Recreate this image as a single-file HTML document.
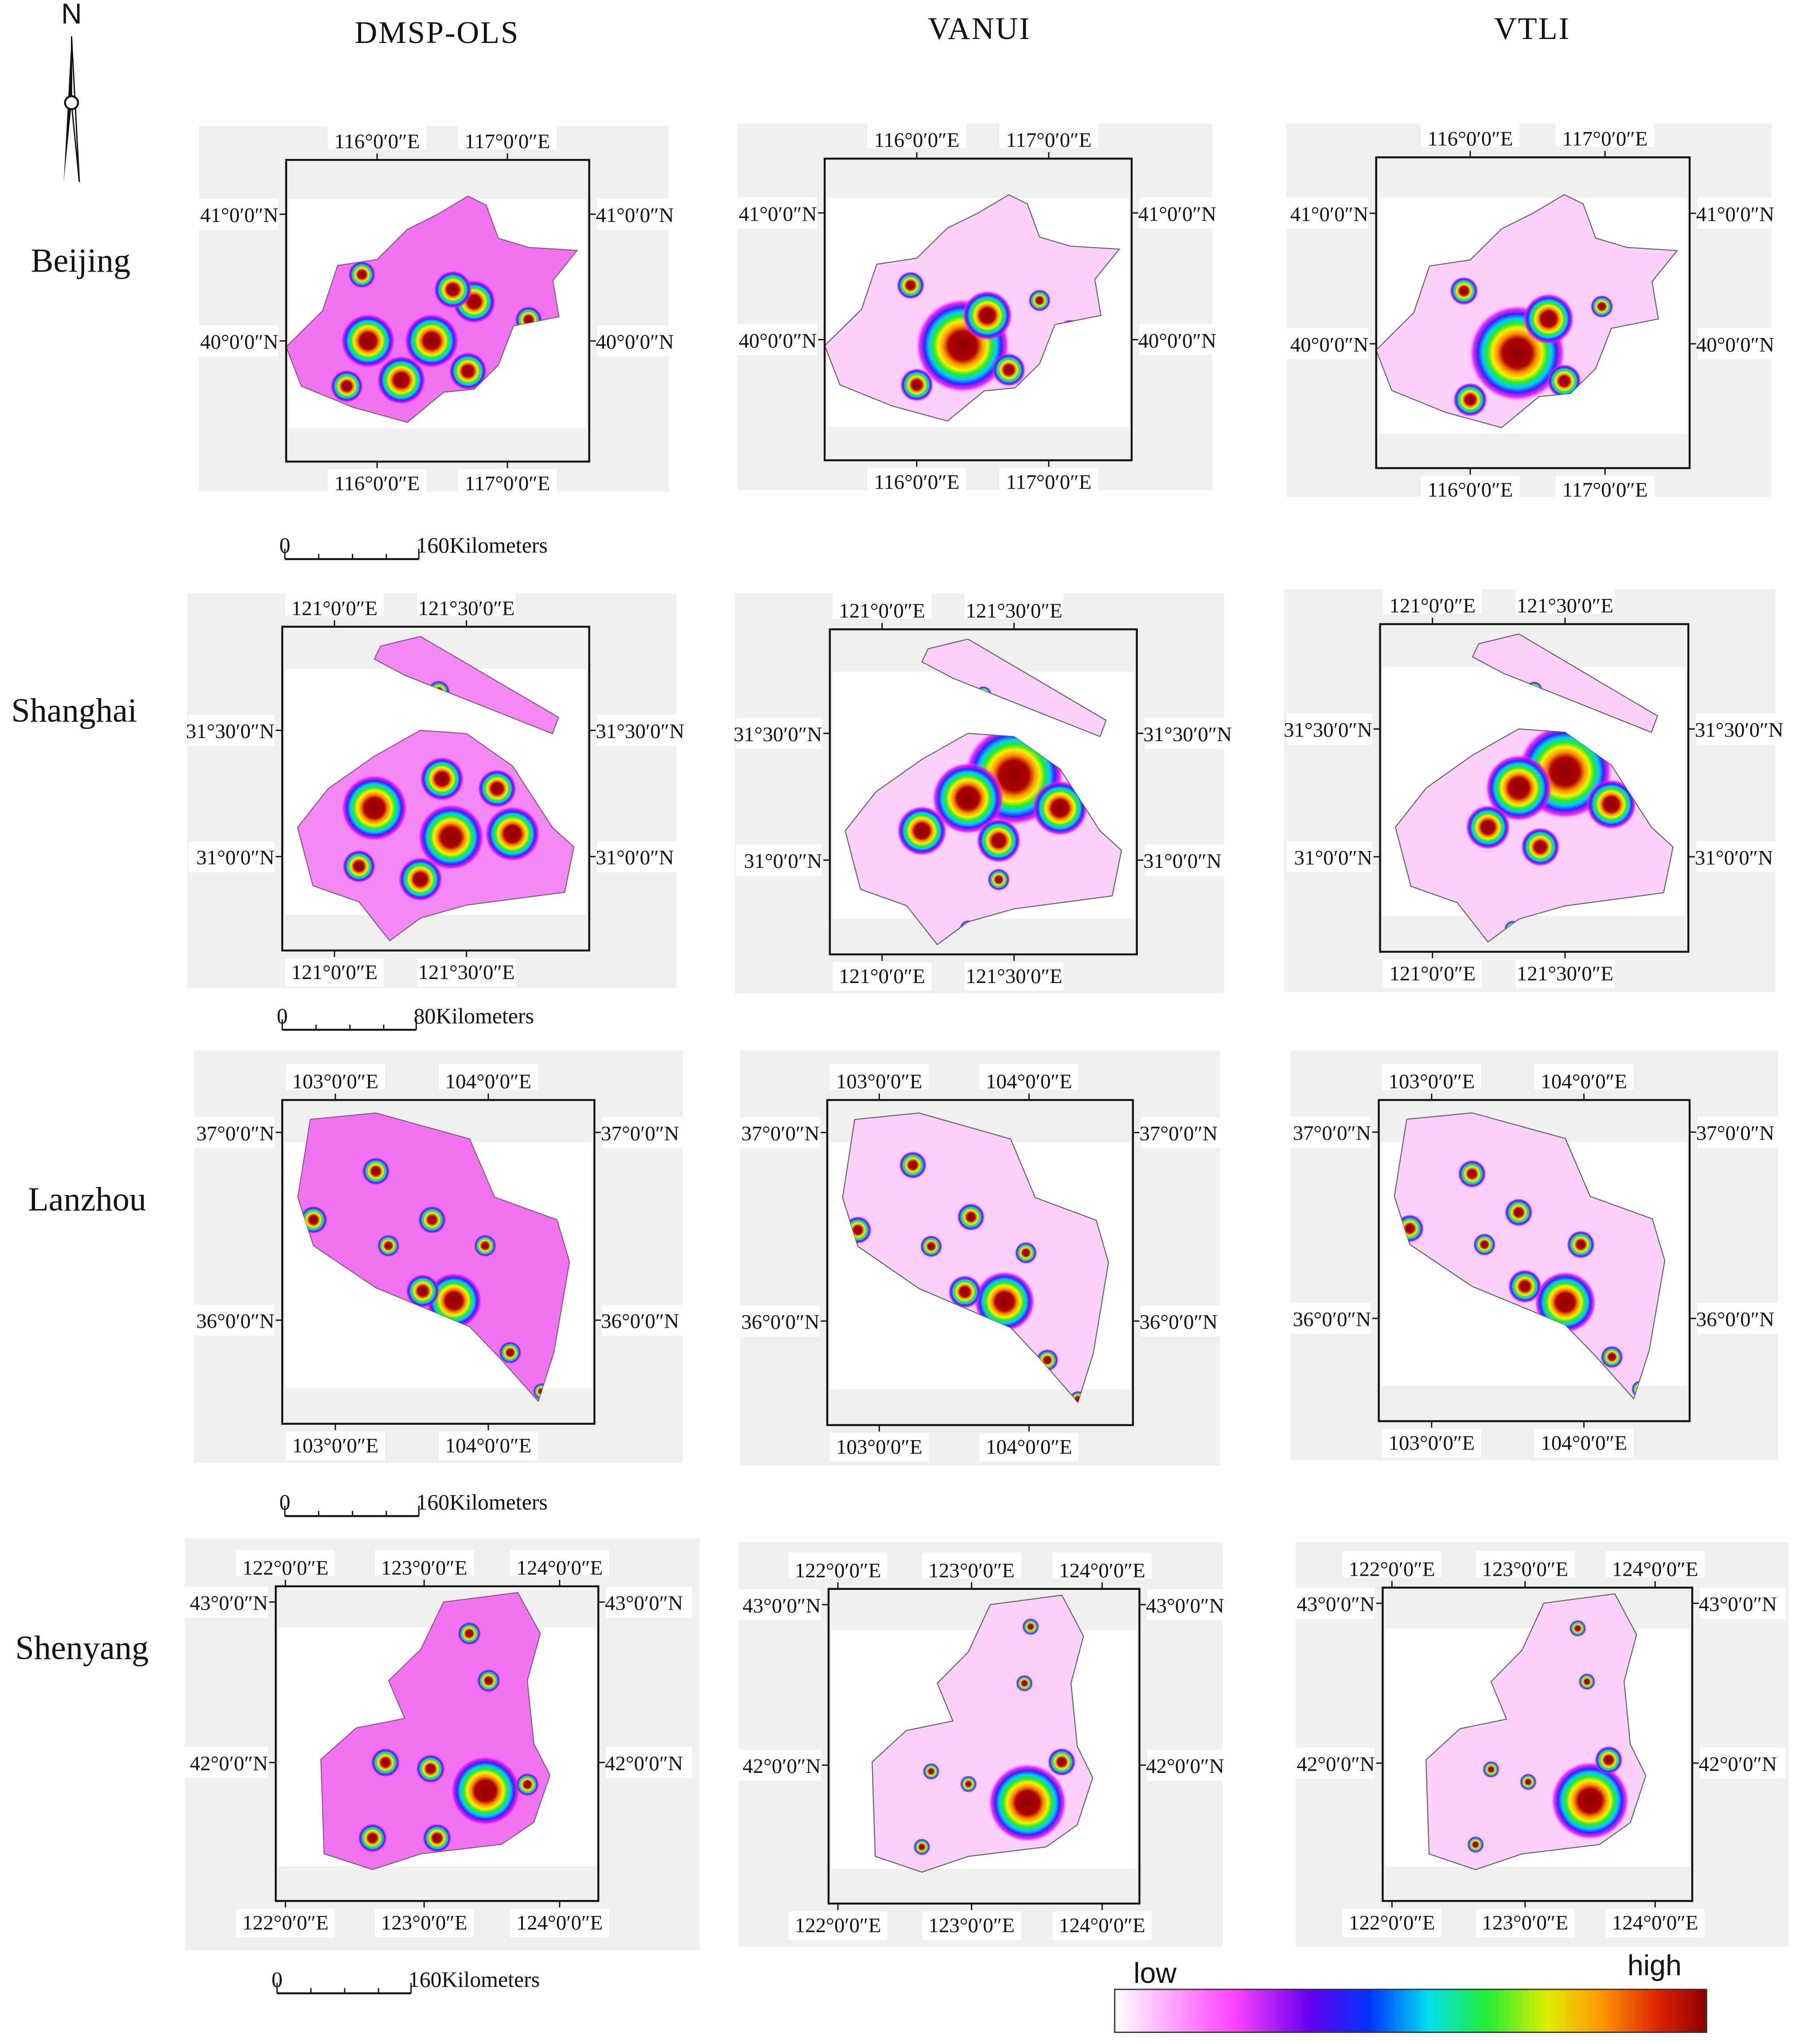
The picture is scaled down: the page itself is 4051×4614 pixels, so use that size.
<!DOCTYPE html>
<html><head><meta charset="utf-8"><style>
html,body{margin:0;padding:0;background:#fff}
svg{display:block}
text{font-family:"Liberation Serif",serif;fill:#111}
</style></head><body>
<svg id="fig" width="4051" height="4614" viewBox="0 0 1380 1572" preserveAspectRatio="none" xmlns="http://www.w3.org/2000/svg">
<defs>
<radialGradient id="hot"><stop offset="0" stop-color="#8b0000"/><stop offset="0.3" stop-color="#b00000"/><stop offset="0.42" stop-color="#ff9900"/><stop offset="0.52" stop-color="#ffee00"/><stop offset="0.62" stop-color="#22ee22"/><stop offset="0.72" stop-color="#00ccff"/><stop offset="0.82" stop-color="#3322ff"/><stop offset="0.92" stop-color="#ee00ee" stop-opacity="0.8"/><stop offset="1" stop-color="#ff66ff" stop-opacity="0"/></radialGradient>
<linearGradient id="cbar" x1="0" x2="1"><stop offset="0" stop-color="#ffffff"/><stop offset="0.2" stop-color="#ff44ff"/><stop offset="0.33" stop-color="#6600ee"/><stop offset="0.43" stop-color="#0033ff"/><stop offset="0.53" stop-color="#00ddee"/><stop offset="0.63" stop-color="#22ee33"/><stop offset="0.73" stop-color="#ddee00"/><stop offset="0.82" stop-color="#ff9900"/><stop offset="0.92" stop-color="#dd2200"/><stop offset="1" stop-color="#8b0000"/></linearGradient>
</defs>
<g id="root"></g>
</svg>
<script>
const NS="http://www.w3.org/2000/svg";
const root=document.getElementById('root');
function el(t,a,p){const e=document.createElementNS(NS,t);for(const k in a)e.setAttribute(k,a[k]);(p||root).appendChild(e);return e;}
function tx(x,y,s,str,sz,anchor,fam){const e=el('text',{x:x,y:y,'font-size':sz,'text-anchor':anchor||'middle'});if(fam)e.setAttribute('style','font-family:'+fam);e.textContent=str;return e;}

const datasets=["DMSP-OLS","VANUI","VTLI"];
const cities=["Beijing","Shanghai","Lanzhou","Shenyang"];
const cityLabelY=[209,555,931,1276];
const scaleLabels=["160Kilometers","80Kilometers","160Kilometers","160Kilometers"];
const lonTicks=[["116°0′0″E","117°0′0″E"],["121°0′0″E","121°30′0″E"],["103°0′0″E","104°0′0″E"],["122°0′0″E","123°0′0″E","124°0′0″E"]];
const latTicks=[["41°0′0″N","40°0′0″N"],["31°30′0″N","31°0′0″N"],["37°0′0″N","36°0′0″N"],["43°0′0″N","42°0′0″N"]];
const lonPos=[[0.3,0.73],[0.17,0.6],[0.17,0.66],[0.03,0.46,0.88]];
const latPos=[[0.18,0.6],[0.32,0.71],[0.1,0.68],[0.05,0.56]];
const outlines=[
 [[0.17,0.35],[0.3,0.33],[0.4,0.23],[0.5,0.18],[0.6,0.12],[0.66,0.15],[0.7,0.26],[0.8,0.29],[0.96,0.3],[0.88,0.4],[0.9,0.52],[0.75,0.55],[0.7,0.68],[0.62,0.76],[0.52,0.77],[0.4,0.87],[0.22,0.82],[0.05,0.75],[0.0,0.62],[0.12,0.5]],
 [[0.32,0.06],[0.45,0.03],[0.9,0.28],[0.88,0.33],[0.4,0.15],[0.3,0.1],[0.32,0.06]],
 [[0.09,0.06],[0.3,0.04],[0.6,0.12],[0.68,0.3],[0.88,0.37],[0.92,0.5],[0.87,0.78],[0.82,0.93],[0.7,0.8],[0.6,0.7],[0.5,0.66],[0.3,0.58],[0.1,0.45],[0.05,0.3]],
 [[0.52,0.05],[0.75,0.02],[0.82,0.15],[0.78,0.3],[0.8,0.5],[0.85,0.6],[0.8,0.75],[0.7,0.82],[0.45,0.85],[0.3,0.9],[0.15,0.85],[0.14,0.55],[0.25,0.45],[0.4,0.42],[0.35,0.3],[0.45,0.2]]
];
const shMain=[[0.05,0.62],[0.15,0.5],[0.3,0.4],[0.45,0.32],[0.6,0.33],[0.75,0.43],[0.88,0.62],[0.95,0.68],[0.92,0.82],[0.6,0.86],[0.45,0.9],[0.35,0.97],[0.25,0.85],[0.1,0.8]];
const hotspots=[
 [[[0.27,0.6,0.1],[0.48,0.6,0.1],[0.38,0.73,0.09],[0.62,0.47,0.08],[0.55,0.43,0.07],[0.25,0.38,0.05],[0.8,0.53,0.05],[0.2,0.75,0.06],[0.6,0.7,0.07]],
  [[0.45,0.62,0.17],[0.53,0.52,0.09],[0.28,0.42,0.05],[0.7,0.47,0.04],[0.8,0.57,0.04],[0.3,0.75,0.06],[0.6,0.7,0.06]],
  [[0.45,0.63,0.17],[0.55,0.52,0.09],[0.28,0.43,0.05],[0.72,0.48,0.04],[0.83,0.57,0.04],[0.3,0.78,0.06],[0.6,0.72,0.06]]],
 [[[0.3,0.56,0.12],[0.55,0.65,0.12],[0.75,0.64,0.1],[0.45,0.78,0.08],[0.25,0.74,0.06],[0.52,0.47,0.08],[0.7,0.5,0.07],[0.51,0.2,0.04]],
  [[0.6,0.45,0.18],[0.45,0.52,0.13],[0.75,0.55,0.1],[0.3,0.62,0.09],[0.55,0.65,0.08],[0.55,0.77,0.04],[0.45,0.92,0.03],[0.5,0.2,0.03]],
  [[0.6,0.45,0.17],[0.45,0.5,0.12],[0.75,0.55,0.09],[0.35,0.62,0.08],[0.52,0.68,0.07],[0.43,0.93,0.03],[0.5,0.2,0.03]]],
 [[[0.55,0.62,0.1],[0.45,0.59,0.06],[0.1,0.37,0.05],[0.3,0.22,0.05],[0.48,0.37,0.05],[0.65,0.45,0.04],[0.73,0.78,0.04],[0.83,0.9,0.03],[0.34,0.45,0.04]],
  [[0.58,0.62,0.11],[0.45,0.59,0.06],[0.1,0.4,0.05],[0.28,0.2,0.05],[0.47,0.36,0.05],[0.65,0.47,0.04],[0.72,0.8,0.04],[0.82,0.92,0.03],[0.34,0.45,0.04]],
  [[0.6,0.63,0.11],[0.47,0.58,0.06],[0.1,0.4,0.05],[0.3,0.23,0.05],[0.45,0.35,0.05],[0.65,0.45,0.05],[0.75,0.8,0.04],[0.84,0.9,0.03],[0.34,0.45,0.04]]],
 [[[0.65,0.65,0.12],[0.34,0.56,0.05],[0.48,0.58,0.05],[0.3,0.8,0.05],[0.5,0.8,0.05],[0.6,0.15,0.04],[0.66,0.3,0.04],[0.78,0.63,0.04]],
  [[0.64,0.68,0.14],[0.33,0.58,0.03],[0.45,0.62,0.03],[0.3,0.82,0.03],[0.65,0.12,0.03],[0.63,0.3,0.03],[0.75,0.55,0.05]],
  [[0.67,0.68,0.14],[0.35,0.58,0.03],[0.47,0.62,0.03],[0.3,0.82,0.03],[0.63,0.13,0.03],[0.66,0.3,0.03],[0.73,0.55,0.05]]]
];
const frames=[
 [[220,123,453,355,153,97,514,378],[634,122,870,354,567,95,932,377],[1058,121,1299,360,989,95,1362,382]],
 [[217,482,453,731,144,456,520,760],[638,484,874,734,565,456,941,764],[1061,480,1298,732,987,453,1365,763]],
 [[217,846,457,1095,149,808,525,1125],[636,846,871,1096,569,808,938,1127],[1060,846,1299,1093,992,808,1367,1123]],
 [[212,1220,460,1462,142,1183,538,1500],[637,1222,876,1464,568,1186,940,1497],[1063,1221,1301,1462,996,1186,1375,1497]]
];
const scaleY=[430,792,1166,1533];
const scaleX=[219,217,219,213];

datasets.forEach((d,i)=>{const t=tx([336,753,1178][i],[33,30,30][i],0,d,24);t.setAttribute('letter-spacing','1');
});
cities.forEach((c,i)=>{const t=tx([62,57,67,63][i],cityLabelY[i],0,c,26);
});

const na=el('g',{});
el('polygon',{points:'55,28 49,140 55,80',fill:'#111'},na);
el('polygon',{points:'55,28 61,140 55,80',fill:'#fff',stroke:'#111','stroke-width':1},na);
el('circle',{cx:55,cy:79,r:5,fill:'#fff',stroke:'#111','stroke-width':1.5},na);
const nt=tx(55,18,0,'N',22,'middle','"Liberation Sans",sans-serif');nt.parentNode.removeChild(nt);na.appendChild(nt);

function pts(o,f){const w=f[2]-f[0],h=f[3]-f[1];return o.map(p=>(f[0]+p[0]*w).toFixed(1)+','+(f[1]+p[1]*h).toFixed(1)).join(' ');}

cities.forEach((c,ci)=>{
 datasets.forEach((d,di)=>{
  const f=frames[ci][di];
  const g=el('g',{});
  el('rect',{x:f[4],y:f[5],width:f[6]-f[4],height:f[7]-f[5],fill:'#efefef'},g);
  const w=f[2]-f[0],h=f[3]-f[1];
  el('rect',{x:f[0],y:f[1],width:w,height:h,fill:'#efefef'},g);
  el('rect',{x:f[0]+2,y:f[1]+h*0.13,width:w-4,height:h*0.76,fill:'#fff'},g);
  const outs=[outlines[ci]];if(ci===1)outs.push(shMain);
  outs.forEach(o=>{el('polygon',{points:pts(o,f),fill:(di===0&&ci!==1)?'#f6a8f4':'#fbd0fa',stroke:'#666','stroke-width':0.8},g);});
  const cp=el('clipPath',{id:'cp'+ci+di},g);outs.forEach(o=>el('polygon',{points:pts(o,f)},cp));
  const hg=el('g',{'clip-path':'url(#cp'+ci+di+')'},g);
  if(di===0)el('rect',{x:f[0],y:f[1],width:w,height:h,fill:'#ee33ee',opacity:0.45},hg);
  hotspots[ci][di].forEach((hs,k)=>{
   const s=el('circle',{cx:f[0]+hs[0]*w,cy:f[1]+hs[1]*h,r:hs[2]*w*0.9,fill:'url(#hot)'},hg);
   
   
  });
  el('rect',{x:f[0],y:f[1],width:w,height:h,fill:'none',stroke:'#111','stroke-width':1.5},g);
  lonTicks[ci].forEach((lab,k)=>{const x=f[0]+lonPos[ci][k]*w;
   el('line',{x1:x,y1:f[1],x2:x,y2:f[1]-5,stroke:'#111'},g);el('line',{x1:x,y1:f[3],x2:x,y2:f[3]+5,stroke:'#111'},g);
   el('rect',{x:x-38,y:f[1]-28,width:76,height:20,fill:'#fff'},g);el('rect',{x:x-38,y:f[3]+6,width:76,height:22,fill:'#fff'},g);
   const a=tx(x,f[1]-9,0,lab,16);g.appendChild(a);const b=tx(x,f[3]+22,0,lab,16);g.appendChild(b);});
  latTicks[ci].forEach((lab,k)=>{const y=f[1]+latPos[ci][k]*h;
   el('line',{x1:f[0],y1:y,x2:f[0]-5,y2:y,stroke:'#111'},g);el('line',{x1:f[2],y1:y,x2:f[2]+5,y2:y,stroke:'#111'},g);
   el('rect',{x:f[0]-72,y:y-12,width:66,height:24,fill:'#fff'},g);el('rect',{x:f[2]+6,y:y-12,width:66,height:24,fill:'#fff'},g);
   const a=tx(f[0]-6,y+6,0,lab,16,'end');g.appendChild(a);const b=tx(f[2]+5,y+6,0,lab,16,'start');g.appendChild(b);});
 });
 const sb=el('g',{});
 const x0=scaleX[ci],y=scaleY[ci];
 el('line',{x1:x0,y1:y,x2:x0+103,y2:y,stroke:'#111','stroke-width':1.5},sb);
 [0,26,52,78,103].forEach(dx=>el('line',{x1:x0+dx,y1:y,x2:x0+dx,y2:y-(dx===0||dx===103?8:4),stroke:'#111'},sb));
 const z=tx(x0,y-5,0,'0',17);sb.appendChild(z);
 const k=tx(x0+101,y-5,0,scaleLabels[ci],17,'start');sb.appendChild(k);
});

const cb=el('g',{});
el('rect',{x:857,y:1530,width:455,height:33,fill:'url(#cbar)',stroke:'#333','stroke-width':1},cb);
const lo=tx(888,1525,0,'low',22,'middle','"Liberation Sans",sans-serif');cb.appendChild(lo);
const hi=tx(1272,1519,0,'high',22,'middle','"Liberation Sans",sans-serif');cb.appendChild(hi);
</script>
</body></html>
